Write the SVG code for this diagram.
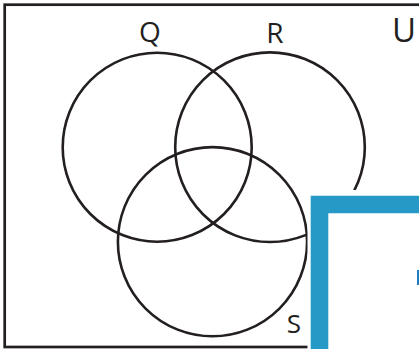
<svg xmlns="http://www.w3.org/2000/svg" width="419" height="349" viewBox="0 0 419 349">
<style>
.set{fill:none;stroke:#231f20;stroke-width:2.6}
.lbl{font-family:"Open Sans","Liberation Sans",sans-serif;fill:#231f20;text-anchor:middle}
</style>
<rect width="419" height="349" fill="#fff"/>
<g id="universe">
<rect x="4.7" y="4.7" width="440" height="342.3" fill="none" stroke="#231f20" stroke-width="2.7"/>
<text class="lbl" x="404" y="42" font-size="33">U</text>
</g>
<g id="Q">
<circle class="set" cx="157.2" cy="147.2" r="94.5"/>
<text class="lbl" x="150" y="42" font-size="28">Q</text>
</g>
<g id="R">
<circle class="set" cx="270" cy="147.2" r="94.8"/>
<text class="lbl" x="275" y="42.5" font-size="28">R</text>
</g>
<g id="S">
<circle class="set" cx="212.5" cy="241.7" r="94.6"/>
<text class="lbl" x="294" y="333" font-size="26">S</text>
</g>
<g id="overlay">
<rect x="307.5" y="190" width="120" height="170" fill="#fff"/>
<path d="M319.5 352 V204.5 H425" fill="none" stroke="#2799c7" stroke-width="17.6"/>
<rect x="417" y="270" width="2" height="15" fill="#1f7cc0"/>
</g>
</svg>
